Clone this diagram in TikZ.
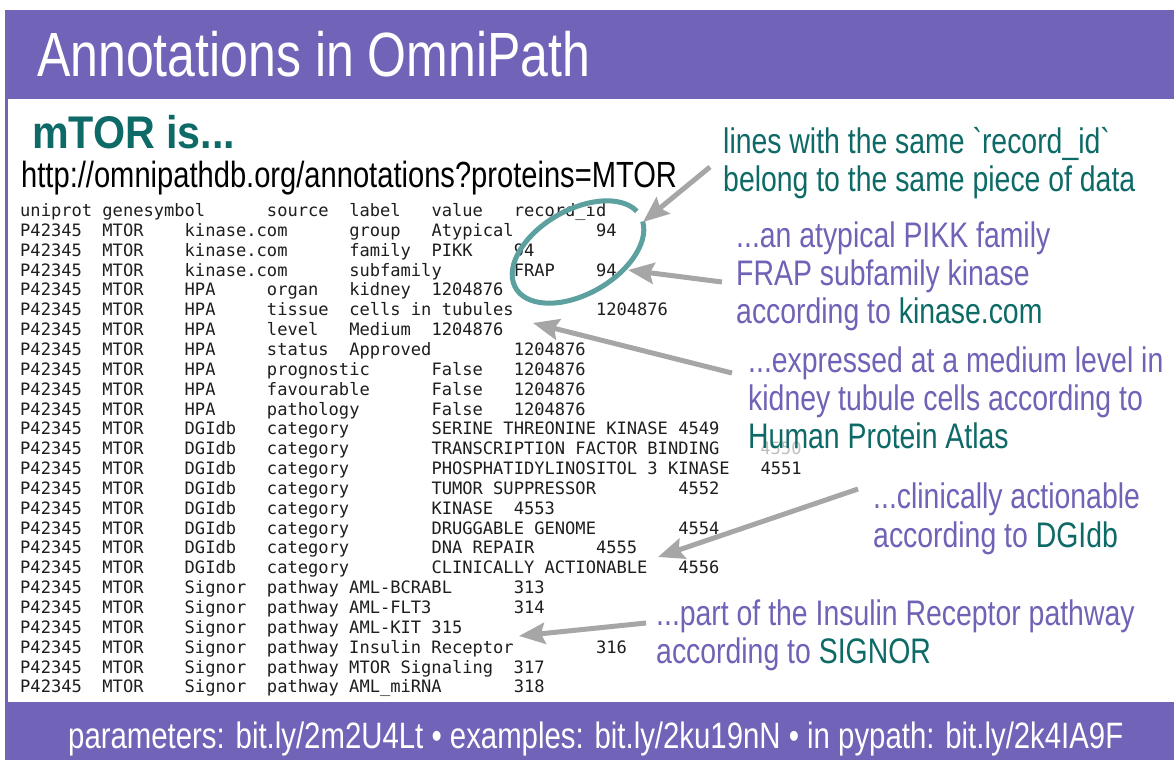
\documentclass[tikz,border=0pt]{standalone}
\usepackage{fontspec}
\usetikzlibrary{arrows.meta}
\newfontfamily\condf{Liberation Sans}[FakeStretch=0.8,Ligatures=TeXOff]
\newfontfamily\condbf{Liberation Sans}[FakeStretch=0.9]
\newfontfamily\monof{DejaVu Sans Mono}
\definecolor{opurple}{RGB}{113,99,183}
\definecolor{oteal}{RGB}{14,106,102}
\definecolor{ringteal}{RGB}{92,160,160}
\definecolor{arrowgray}{RGB}{166,166,166}
\definecolor{txtpurple}{RGB}{112,98,182}
\definecolor{tblgray}{RGB}{30,30,30}
\newcommand{\tl}[1]{{\color{oteal}#1}}
\tikzset{
  tbl/.style={anchor=base west, inner sep=0pt, font=\monof\fontsize{17.08}{20}\selectfont, text=tblgray},
  annp/.style={anchor=base west, inner sep=0pt, font=\condf\fontsize{35.5}{38}\selectfont, text=txtpurple},
  annt/.style={annp, text=oteal},
  garrow/.style={draw=arrowgray, line width=5pt, -{Stealth[length=26pt,width=21pt,inset=4pt]}},
  ring/.style={draw=ringteal, line width=5pt}
}
\begin{document}
\begin{tikzpicture}[x=1pt,y=-1pt]
\useasboundingbox (0,0) rectangle (1174,760);
\fill[white] (0,0) rectangle (1174,760);
\fill[opurple] (5,10) rectangle (1174,760);
\fill[white] (8,99) rectangle (1174,702);

% title and footer
\node[anchor=base west, inner sep=0pt, text=white, font=\condf\fontsize{62.5}{66}\selectfont] (title) at (37,77) {Annotations in OmniPath};
\node[anchor=base west, inner sep=0pt, text=white, font=\condf\fontsize{36.7}{40}\selectfont] (footer) at (68,748) {parameters: bit.ly/2m2U4Lt • examples: bit.ly/2ku19nN • in pypath: bit.ly/2k4IA9F};

% heading
\node[anchor=base west, inner sep=0pt, text=oteal, font=\condbf\bfseries\fontsize{45.8}{48}\selectfont] (mtor) at (32,148) {mTOR is...};
\node[anchor=base west, inner sep=0pt, text=black, font=\condf\fontsize{36.4}{40}\selectfont] (url) at (21,187) {http://omnipathdb.org/annotations?proteins=MTOR};

% table
\node[tbl] (r0) at (20,216.5) {uniprot~genesymbol~~~~~~source~~label~~~value~~~record\_id};
\node[tbl] (r1) at (20,236.35) {P42345~~MTOR~~~~kinase.com~~~~~~group~~~Atypical~~~~~~~~94};
\node[tbl] (r2) at (20,256.2) {P42345~~MTOR~~~~kinase.com~~~~~~family~~PIKK~~~~94};
\node[tbl] (r3) at (20,276.05) {P42345~~MTOR~~~~kinase.com~~~~~~subfamily~~~~~~~FRAP~~~~94};
\node[tbl] (r4) at (20,295.9) {P42345~~MTOR~~~~HPA~~~~~organ~~~kidney~~1204876};
\node[tbl] (r5) at (20,315.75) {P42345~~MTOR~~~~HPA~~~~~tissue~~cells~in~tubules~~~~~~~~1204876};
\node[tbl] (r6) at (20,335.6) {P42345~~MTOR~~~~HPA~~~~~level~~~Medium~~1204876};
\node[tbl] (r7) at (20,355.45) {P42345~~MTOR~~~~HPA~~~~~status~~Approved~~~~~~~~1204876};
\node[tbl] (r8) at (20,375.3) {P42345~~MTOR~~~~HPA~~~~~prognostic~~~~~~False~~~1204876};
\node[tbl] (r9) at (20,395.15) {P42345~~MTOR~~~~HPA~~~~~favourable~~~~~~False~~~1204876};
\node[tbl] (r10) at (20,415.0) {P42345~~MTOR~~~~HPA~~~~~pathology~~~~~~~False~~~1204876};
\node[tbl] (r11) at (20,434.85) {P42345~~MTOR~~~~DGIdb~~~category~~~~~~~~SERINE~THREONINE~KINASE~4549};
\node[tbl] (r12) at (20,454.7) {P42345~~MTOR~~~~DGIdb~~~category~~~~~~~~TRANSCRIPTION~FACTOR~BINDING};
\node[tbl, text=black!25] (r12b) at (760.2,454.7) {4550};
\node[tbl] (r13) at (20,474.55) {P42345~~MTOR~~~~DGIdb~~~category~~~~~~~~PHOSPHATIDYLINOSITOL~3~KINASE~~~4551};
\node[tbl] (r14) at (20,494.4) {P42345~~MTOR~~~~DGIdb~~~category~~~~~~~~TUMOR~SUPPRESSOR~~~~~~~~4552};
\node[tbl] (r15) at (20,514.25) {P42345~~MTOR~~~~DGIdb~~~category~~~~~~~~KINASE~~4553};
\node[tbl] (r16) at (20,534.1) {P42345~~MTOR~~~~DGIdb~~~category~~~~~~~~DRUGGABLE~GENOME~~~~~~~~4554};
\node[tbl] (r17) at (20,553.95) {P42345~~MTOR~~~~DGIdb~~~category~~~~~~~~DNA~REPAIR~~~~~~4555};
\node[tbl] (r18) at (20,573.8) {P42345~~MTOR~~~~DGIdb~~~category~~~~~~~~CLINICALLY~ACTIONABLE~~~4556};
\node[tbl] (r19) at (20,593.65) {P42345~~MTOR~~~~Signor~~pathway~AML-BCRABL~~~~~~313};
\node[tbl] (r20) at (20,613.5) {P42345~~MTOR~~~~Signor~~pathway~AML-FLT3~~~~~~~~314};
\node[tbl] (r21) at (20,633.35) {P42345~~MTOR~~~~Signor~~pathway~AML-KIT~315};
\node[tbl] (r22) at (20,653.2) {P42345~~MTOR~~~~Signor~~pathway~Insulin~Receptor~~~~~~~~316};
\node[tbl] (r23) at (20,673.05) {P42345~~MTOR~~~~Signor~~pathway~MTOR~Signaling~~317};
\node[tbl] (r24) at (20,692.9) {P42345~~MTOR~~~~Signor~~pathway~AML\_miRNA~~~~~~~318};

% ring around record_id 94
\begin{scope}[shift={(578,252)}, rotate=30]
\draw[ring] (8:72 and 42) arc[start angle=8, end angle=352, x radius=72, y radius=42];
\end{scope}

% annotations
\node[annt] (t1a) at (723,153) {lines with the same `record\_id`};
\node[annt] (t1b) at (723,191) {belong to the same piece of data};
\node[annp] (t2a) at (736,247) {...an atypical PIKK family};
\node[annp] (t2b) at (736,285) {FRAP subfamily kinase};
\node[annp] (t2c) at (736,323) {according to \tl{kinase.com}};
\node[annp] (t3a) at (748,372) {...expressed at a medium level in};
\node[annp] (t3b) at (748,410) {kidney tubule cells according to};
\node[annt] (t3c) at (748,448) {Human Protein Atlas};
\node[annp] (t4a) at (873,508) {...clinically actionable};
\node[annp] (t4b) at (873,547) {according to \tl{DGIdb}};
\node[annp] (t5a) at (656,625) {...part of the Insulin Receptor pathway};
\node[annp] (t5b) at (656,663) {according to \tl{SIGNOR}};

% arrows
\coordinate (a1s) at (710,167); \coordinate (a1t) at (643,222);
\coordinate (a2s) at (722,282); \coordinate (a2t) at (628,270);
\coordinate (a3s) at (732,373); \coordinate (a3t) at (533,323);
\coordinate (a4s) at (858,489); \coordinate (a4t) at (658,557);
\coordinate (a5s) at (646,623); \coordinate (a5t) at (519,636);
\draw[garrow] (a1s) -- (a1t);
\draw[garrow] (a2s) -- (a2t);
\draw[garrow] (a3s) -- (a3t);
\draw[garrow] (a4s) -- (a4t);
\draw[garrow] (a5s) -- (a5t);
\end{tikzpicture}
\end{document}
